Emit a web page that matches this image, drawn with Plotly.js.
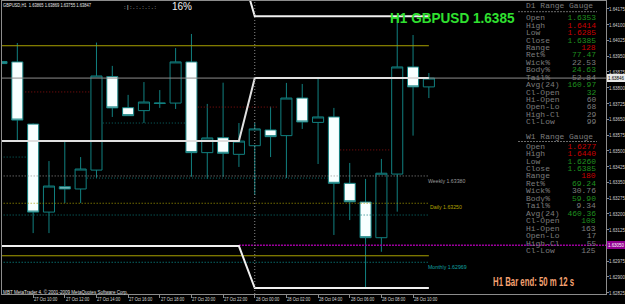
<!DOCTYPE html>
<html><head><meta charset="utf-8">
<script src="https://cdn.plot.ly/plotly-3.0.1.min.js"></script>
<style>html,body{margin:0;padding:0;background:#000;}#chart{width:625px;height:304px;}</style>
</head><body><div id="chart"></div>
<script>
// ---- DATA (GBPUSD H1, 27 Oct 2009 08:00 -> 28 Oct 2009 11:00) ----
const barIndex = [0,1,2,3,4,5,6,7,8,9,10,11,12,13,14,15,16,17,18,19,20,21,22,23,24,25,26,27];
const openP  = [1.63925,1.63923,1.63627,1.63208,1.63329,1.63318,1.63408,1.63853,1.63705,1.63691,1.63725,1.63727,1.63923,1.63491,1.63562,1.63483,1.63524,1.63599,1.63572,1.63751,1.63635,1.63661,1.63345,1.63256,1.63086,1.63389,1.63899,1.63804];
const highP  = [1.64005,1.64013,1.63630,1.63451,1.63542,1.63470,1.64015,1.63904,1.63766,1.63827,1.63789,1.63989,1.64056,1.63723,1.63824,1.63632,1.63632,1.63710,1.63823,1.63818,1.63846,1.63704,1.63442,1.63366,1.63461,1.64139,1.64051,1.63870];
const lowP   = [1.63600,1.63551,1.63108,1.63108,1.63251,1.63251,1.63370,1.63661,1.63666,1.63632,1.63704,1.63699,1.63376,1.63366,1.63376,1.63423,1.63289,1.63470,1.63370,1.63604,1.63437,1.63099,1.63170,1.62846,1.63019,1.63210,1.63572,1.63751];
const closeP = [1.63915,1.63646,1.63208,1.63332,1.63318,1.63413,1.63856,1.63704,1.63667,1.63732,1.63727,1.63923,1.63491,1.63561,1.63488,1.63546,1.63604,1.63567,1.63751,1.63637,1.63661,1.63345,1.63257,1.63086,1.63393,1.63899,1.63804,1.63846];

const timeTickIndex  = [0,2,4,6,8,10,12,14,16,18,20,22,24,26];
const timeTickLabels = ["27 Oct 2009","27 Oct 10:00","27 Oct 12:00","27 Oct 14:00","27 Oct 16:00","27 Oct 18:00","27 Oct 20:00","27 Oct 22:00","28 Oct 00:00","28 Oct 02:00","28 Oct 04:00","28 Oct 06:00","28 Oct 08:00","28 Oct 10:00"];
const priceTicks = [1.64175,1.64100,1.64025,1.63950,1.63875,1.63800,1.63725,1.63650,1.63575,1.63500,1.63425,1.63350,1.63275,1.63200,1.63125,1.63050,1.62975,1.62900,1.62825];

const bidPrice = 1.63846;
const dailyLevel = 1.63250, weeklyLevel = 1.63380, monthlyLevel = 1.62969;
const roundLevels = [1.64000, 1.63000];
const tealLevel = 1.63194;
const purpleLevel = 1.63050;
const dayStartBar = 16;

// prior day / current day step lines (high, close, low)
const stepX     = [-1, 15, 16, 27];
const stepHigh  = [1.64400, 1.64400, 1.64140, 1.64140];
const stepClose = [1.63546, 1.63546, 1.63846, 1.63846];
const stepLow   = [1.63046, 1.63046, 1.62846, 1.62846];

// short indicator segments [x0, x1] and price
const tealSegX = [[5.4,20.6],[6.4,11.6],[-1,1.6]];
const tealSegY = [1.63370, 1.63632, 1.63470];
const redSegX  = [[1.5,5.6],[12.4,17.5],[21.4,24.5]];
const redSegY  = [1.63780, 1.63708, 1.63504];

const gaugeLabels = ['Open','High','Low','Close','Range','Ret%','Wick%','Body%','Tail%','Avg(24)','Cl-Open','Hi-Open','Open-Lo','High-Cl','Cl-Low'];
const d1Values = ['1.6353','1.6414','1.6285','1.6385','128','77.47','22.53','24.63','52.84','160.97','32','60','68','29','99'];
const w1Values = ['1.6277','1.6440','1.6260','1.6385','180','69.24','30.76','59.90','9.34','460.36','108','163','17','55','125'];
const d1Tone = ['g','r','r','g','r','g','n','g','n','g','g','n','n','n','n'];
const w1Tone = ['r','r','g','g','r','g','n','g','n','g','g','n','n','n','n'];

// ---- STYLE / LAYOUT ----
const PL=2, PR=606, PT=1, PB=294;
const fx = p => (p-PL)/(PR-PL);
const fy = p => (PB-p)/(PB-PT);
const toneColor = {g:'#1f8f1f', r:'#c80000', n:'#7c7c7c'};
const TEAL = '#118080';
const MONO = 'Liberation Mono, DejaVu Sans Mono, monospace';
const SANS = 'Liberation Sans, Arial, sans-serif';

const ann = [], annScale = [];
function add(a, sx, origin) { ann.push(a); annScale.push(sx ? [sx, origin || 'left'] : null); }
function txt(x, y, text, color, size, family, anchor, extra) {
  return Object.assign({xref:'paper', yref:'paper', x:fx(x), y:fy(y), text:text, showarrow:false,
    xanchor:anchor||'left', yanchor:'middle', font:{color:color, size:size, family:family},
    borderpad:0, borderwidth:0}, extra||{});
}
function hline(x, y, color, width, dash) {
  return {type:'scatter', mode:'lines', x:x, y:y, hoverinfo:'skip',
    line:{color:color, width:width, dash:dash||'solid'}};
}

const traces = [];
traces.push({type:'candlestick', x:barIndex, open:openP, high:highP, low:lowP, close:closeP,
  increasing:{line:{color:TEAL, width:1}, fillcolor:'#000000'},
  decreasing:{line:{color:TEAL, width:1}, fillcolor:'#f8ffff'},
  whiskerwidth:0, hoverinfo:'skip'});

const DOT = '1px,2px';
traces.push(hline([-1,27],[roundLevels[0],roundLevels[0]],'#a8a000',1));
traces.push(hline([-1,27],[roundLevels[1],roundLevels[1]],'#a8a000',1));
traces.push(hline([-1,27],[dailyLevel,dailyLevel],'#a8a000',1,DOT));
traces.push(hline([-1,27],[weeklyLevel,weeklyLevel],'#909090',1,DOT));
traces.push(hline([-1,27],[monthlyLevel,monthlyLevel],'#0a9a9a',1,DOT));
traces.push(hline([-1,27],[tealLevel,tealLevel],'#0a7a7a',1,DOT));
tealSegX.forEach((sx,i)=>traces.push(hline(sx,[tealSegY[i],tealSegY[i]],'#0a6a6a',1,DOT)));
redSegX.forEach((sx,i)=>traces.push(hline(sx,[redSegY[i],redSegY[i]],'#8a1010',1,DOT)));
traces.push(hline([15,40],[purpleLevel,purpleLevel],'#a000a0',1.3,'2px,1px'));
traces.push(hline([-1,40],[bidPrice,bidPrice],'#8c8c8c',1));
traces.push(hline(stepX,stepHigh,'#f0f0f0',2));
traces.push(hline(stepX,stepClose,'#e0e0e0',2));
traces.push(hline(stepX,stepLow,'#f0f0f0',2));

add(txt(3,5,'GBPUSD,H1  1.63865 1.63869 1.63755 1.63847','#e8e8e8',5.5,SANS), 0.74);
add(txt(124,7,': | : . : . : . : . :','#e8e8e8',5.5,SANS));
add(txt(172,7,'16%','#f0f0f0',10,SANS));
add(txt(390,18,'<b>H1 GBPUSD 1.6385</b>','#30e030',14,SANS), 0.97);
add(txt(526,6,'D1 Range Gauge','#7c7c7c',7,MONO), 1.14);
add(txt(526,136.7,'W1 Range Gauge','#7c7c7c',7,MONO), 1.14);
gaugeLabels.forEach((lab,i)=>{
  const y1 = 18.3 + i*7.43, y2 = 146.7 + i*7.45;
  add(txt(526,y1,lab,'#7c7c7c',7,MONO), 1.14);
  add(txt(596,y1,d1Values[i],toneColor[d1Tone[i]],7,MONO,'right'), 1.14, 'right');
  add(txt(526,y2,lab,'#7c7c7c',7,MONO), 1.14);
  add(txt(596,y2,w1Values[i],toneColor[w1Tone[i]],7,MONO,'right'), 1.14, 'right');
});
add(txt(428,180.5,'Weekly '+weeklyLevel.toFixed(5),'#9a9a9a',5.5,SANS), 0.95);
add(txt(430,207.5,'Daily '+dailyLevel.toFixed(5),'#b0a000',5.5,SANS), 0.95);
add(txt(428,267,'Monthly '+monthlyLevel.toFixed(5),'#10a0a0',5.5,SANS), 0.95);
add(txt(493,282,'<b>H1 Bar end: 50 m 12 s</b>','#f4a070',12,SANS), 0.65);
add(txt(3,291.5,'MBT MetaTrader 4, © 2001-2009 MetaQuotes Software Corp.','#e0e0e0',5.5,SANS), 0.83);
timeTickIndex.forEach((ix,i)=>{
  add({xref:'x', yref:'paper', x:ix, y:fy(299), text:timeTickLabels[i], showarrow:false,
    xanchor:'left', yanchor:'middle', xshift:1, font:{color:'#d8d8d8', size:5.5, family:SANS}, borderpad:0, borderwidth:0}, 0.74);
});
priceTicks.forEach(v=>{
  if (v === purpleLevel) return; // covered by the purple price box
  add({xref:'paper', yref:'y', x:fx(608.5), y:v, text:v.toFixed(5), showarrow:false, xanchor:'left', yanchor:'middle',
    font:{color:'#d0d0d0', size:5.5, family:SANS}, borderpad:0, borderwidth:0}, 0.8);
});
add({xref:'paper', yref:'y', x:fx(607), y:bidPrice, text:bidPrice.toFixed(5), showarrow:false, xanchor:'left', yanchor:'middle',
  font:{color:'#000', size:5.5, family:SANS}, bgcolor:'#e8e8e8', borderpad:1, borderwidth:0}, 0.8);
add({xref:'paper', yref:'y', x:fx(607), y:purpleLevel, text:purpleLevel.toFixed(5), showarrow:false, xanchor:'left', yanchor:'middle',
  font:{color:'#fff', size:5.5, family:SANS}, bgcolor:'#900090', borderpad:1, borderwidth:0}, 0.8);

const shapes = [
  {type:'line', xref:'x', yref:'paper', x0:dayStartBar, x1:dayStartBar, y0:0, y1:1, line:{color:'#8a8a8a', width:1, dash:'1px,2px'}},
  {type:'line', xref:'paper', yref:'paper', x0:fx(518), x1:fx(597), y0:fy(11.7), y1:fy(11.7), line:{color:'#6a6a6a', width:1, dash:'2px,1px'}},
  {type:'line', xref:'paper', yref:'paper', x0:fx(518), x1:fx(597), y0:fy(141.5), y1:fy(141.5), line:{color:'#6a6a6a', width:1, dash:'2px,1px'}}
];

const layout = {
  width:625, height:304, margin:{l:PL, r:625-PR, t:PT, b:304-PB, pad:0},
  paper_bgcolor:'#000', plot_bgcolor:'#000', showlegend:false,
  boxgap:0.3, boxgroupgap:0,
  xaxis:{range:[0.032,38.19], showgrid:false, zeroline:false, rangeslider:{visible:false},
    showline:true, linecolor:'#8c8c8c', linewidth:1, mirror:true,
    tickvals:timeTickIndex, showticklabels:false, ticks:'outside', ticklen:3, tickcolor:'#8c8c8c', fixedrange:true},
  yaxis:{range:[1.62818,1.64213], side:'right', showgrid:false, zeroline:false,
    showline:true, linecolor:'#8c8c8c', linewidth:1, mirror:true,
    tickvals:priceTicks, showticklabels:false, ticks:'outside', ticklen:2, tickcolor:'#8c8c8c', fixedrange:true},
  annotations:ann, shapes:shapes
};
Plotly.newPlot('chart', traces, layout, {staticPlot:true, displayModeBar:false}).then(gd=>{
  gd.querySelectorAll('g.annotation').forEach(g=>{
    const s = annScale[+g.getAttribute('data-index')];
    if (!s) return;
    const t = g.querySelector('text.annotation-text');
    if (!t) return;
    t.style.transformBox = 'fill-box';
    t.style.transformOrigin = s[1] + ' center';
    t.style.transform = 'scaleX(' + s[0] + ')';
  });
});
</script></body></html>
